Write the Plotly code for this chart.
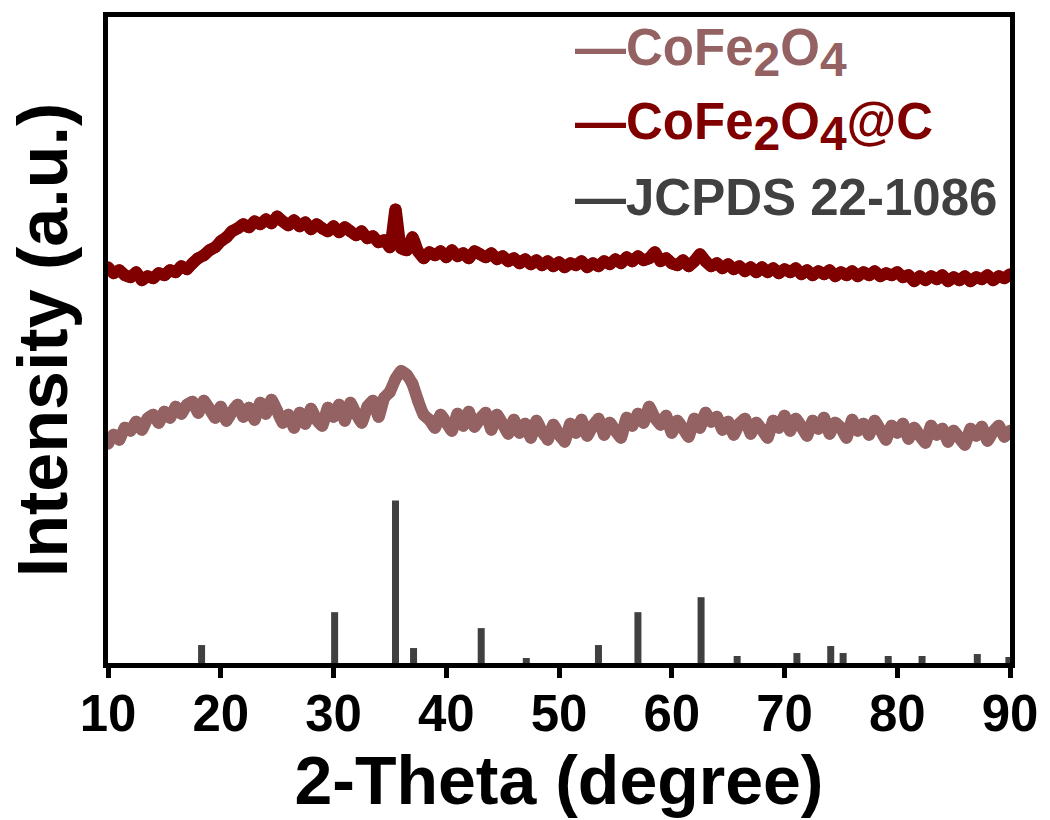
import numpy as np
import plotly.graph_objects as go

# 2-theta scan grid (degrees), 0.5 degree step
two_theta = np.arange(10.0, 90.0 + 0.25, 0.5)

# CoFe2O4@C pattern (offset, a.u.)
cofe2o4_c = [
    397, 391, 394, 389, 387, 392, 384, 388, 386, 391,
    389, 394, 392, 398, 395, 401, 406, 409, 414, 417,
    423, 427, 433, 436, 440, 437, 443, 440, 445, 441,
    448, 443, 439, 444, 438, 442, 435, 440, 436, 433,
    438, 432, 437, 433, 429, 433, 426, 428, 422, 424,
    417, 455, 416, 414, 427, 413, 406, 412, 409, 413,
    407, 414, 408, 411, 406, 413, 410, 407, 411, 405,
    408, 403, 406, 401, 405, 400, 404, 399, 403, 398,
    402, 397, 401, 399, 403, 397, 401, 398, 403, 400,
    405, 401, 407, 403, 408, 404, 406, 412, 403, 406,
    401, 399, 404, 398, 403, 410, 403, 398, 401, 396,
    400, 395, 398, 393, 397, 392, 397, 392, 396, 391,
    395, 392, 396, 390, 394, 389, 393, 390, 394, 388,
    392, 389, 393, 388, 392, 389, 393, 388, 391, 389,
    392, 387, 389, 383, 388, 384, 388, 385, 389, 383,
    387, 384, 388, 383, 387, 385, 389, 384, 388, 386,
    390,
]

# CoFe2O4 pattern (offset, a.u.)
cofe2o4 = [
    220, 229, 224, 236, 233, 242, 234, 245, 249, 241,
    252, 246, 257, 250, 259, 262, 251, 263, 255, 246,
    257, 243, 252, 259, 247, 256, 244, 261, 250, 264,
    253, 241, 249, 236, 251, 240, 255, 244, 238, 256,
    247, 259, 243, 261, 250, 241, 257, 263, 247, 266,
    272, 285, 293, 289, 280, 263, 249, 244, 236, 249,
    241, 233, 250, 238, 252, 237, 245, 251, 234, 249,
    240, 230, 244, 231, 240, 226, 243, 232, 224, 239,
    229, 222, 240, 231, 244, 228, 238, 245, 229, 241,
    233, 226, 246, 238, 250, 241, 257, 246, 239, 248,
    231, 243, 235, 227, 245, 236, 251, 242, 247, 234,
    242, 229, 240, 245, 230, 241, 234, 226, 243, 236,
    248, 233, 245, 237, 228, 243, 235, 246, 230, 241,
    236, 226, 244, 233, 240, 229, 243, 234, 224, 238,
    231, 240, 225, 236, 228, 221, 238, 229, 235, 222,
    233, 226, 219, 235, 228, 237, 223, 232, 238, 227,
    233,
]

# JCPDS 22-1086 reference lines: position (deg) and relative height (a.u.)
ref_pos = [18.3, 30.1, 35.5, 37.1, 43.1, 47.1, 53.5, 57.0, 62.6,
           65.8, 71.1, 74.1, 75.2, 79.2, 82.2, 87.1, 89.9]
ref_height = [18, 51, 163, 15, 35, 5, 18, 51, 66,
              7, 10, 17, 10, 7, 7, 9, 6]

x_ticks = [10, 20, 30, 40, 50, 60, 70, 80, 90]

COL_BARE = "#946262"
COL_CARBON = "#800000"
COL_REF = "#404040"
FONT = "Liberation Sans, Arial, sans-serif"

# stick pattern as vertical segments separated by gaps
stick_x, stick_y = [], []
for p, h in zip(ref_pos, ref_height):
    stick_x += [p, p, None]
    stick_y += [0, h, None]

fig = go.Figure()
fig.add_trace(go.Scatter(x=stick_x, y=stick_y, mode="lines",
                         line=dict(color=COL_REF, width=7), showlegend=False))
for series, col in ((cofe2o4, COL_BARE), (cofe2o4_c, COL_CARBON)):
    fig.add_trace(go.Scatter(
        x=two_theta, y=series, mode="lines+markers",
        line=dict(color=col, width=12, shape="spline", smoothing=0.4),
        marker=dict(color=col, size=12, line=dict(width=0)),
        showlegend=False,
    ))


def sub(s):
    return '<sub><span style="font-size:48px">' + s + "</span></sub>"


legend_rows = [
    ("—CoFe" + sub("2") + "O" + sub("4"), COL_BARE, 0.945),
    ("—CoFe" + sub("2") + "O" + sub("4") + "@C", COL_CARBON, 0.831),
    ("—JCPDS 22-1086", COL_REF, 0.72),
]
for txt, col, yy in legend_rows:
    fig.add_annotation(x=0.516, y=yy, xref="paper", yref="paper",
                       xanchor="left", yanchor="middle", showarrow=False,
                       text="<b>" + txt + "</b>",
                       font=dict(family=FONT, size=51, color=col))

fig.update_layout(
    width=1050, height=820,
    margin=dict(l=108, r=37, t=15, b=157),
    paper_bgcolor="white", plot_bgcolor="white",
    font=dict(family=FONT, color="black"),
)
fig.update_xaxes(
    range=[10, 90], tickvals=x_ticks, ticktext=[str(v) for v in x_ticks],
    ticks="outside", ticklen=10, tickwidth=5, tickcolor="black",
    ticklabelstandoff=-8,
    showline=True, linewidth=5, linecolor="black", mirror=True,
    showgrid=False, zeroline=False,
    tickfont=dict(family=FONT, size=51, color="black", weight="bold"),
    title=dict(text="<b>2-Theta (degree)</b>", font=dict(family=FONT, size=68), standoff=6),
)
fig.update_yaxes(
    range=[0, 648], showticklabels=False, ticks="",
    showline=True, linewidth=5, linecolor="black", mirror=True,
    showgrid=False, zeroline=False,
    title=dict(text="<b>Intensity (a.u.)</b>", font=dict(family=FONT, size=70), standoff=14),
)

fig.write_html("out.html")
